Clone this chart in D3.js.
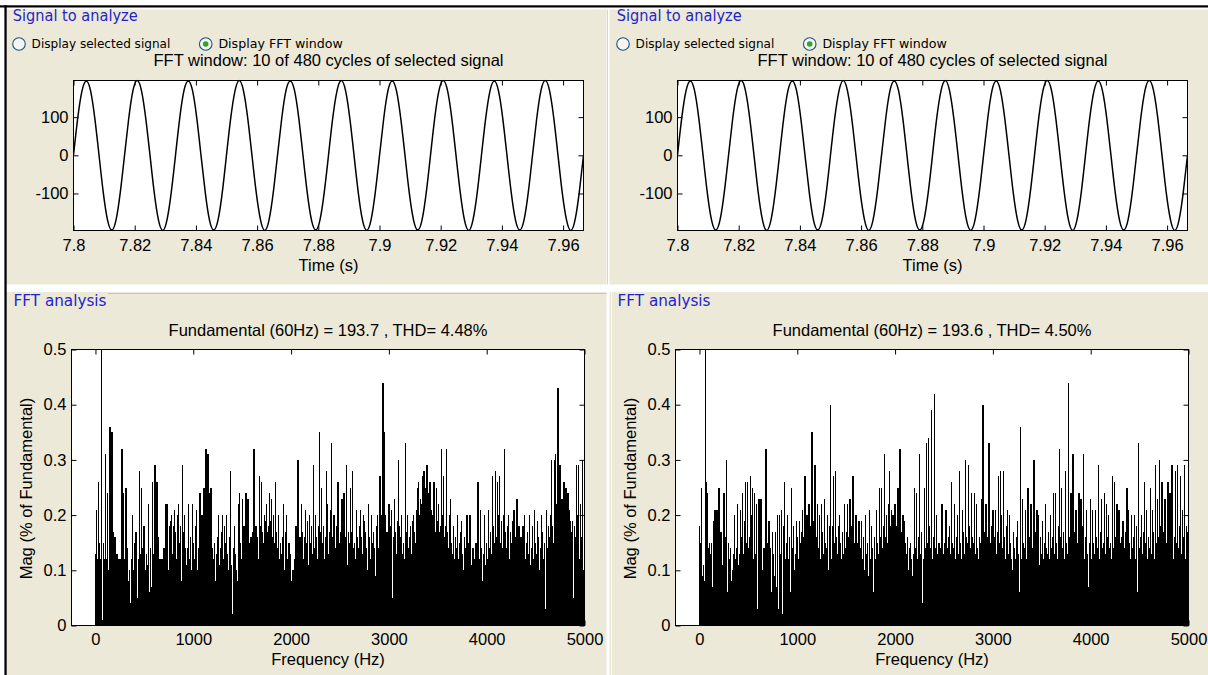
<!DOCTYPE html>
<html><head><meta charset="utf-8">
<script src="https://cdn.jsdelivr.net/npm/d3@7"></script>
<style>
html,body{margin:0;padding:0;background:#fff;}
svg{display:block;}
</style></head>
<body>
<svg id="c" width="1208" height="675"></svg>
<script>
// ---------- data ----------
const panelTitles = ["Signal to analyze", "FFT analysis"];
const radioLabels = ["Display selected signal", "Display FFT window"];
const timeTitle = "FFT window: 10 of 480 cycles of selected signal";
const timeAxisLabel = "Time (s)";
const freqAxisLabel = "Frequency (Hz)";
const magAxisLabel = "Mag (% of Fundamental)";
const fftTitles = ["Fundamental (60Hz) = 193.7 , THD= 4.48%", "Fundamental (60Hz) = 193.6 , THD= 4.50%"];

const timeStart = 7.8;
const samplesPerSecond = 720;
const timeTicks = [7.8, 7.82, 7.84, 7.86, 7.88, 7.9, 7.92, 7.94, 7.96];
const timeTickLabels = ["7.8", "7.82", "7.84", "7.86", "7.88", "7.9", "7.92", "7.94", "7.96"];
const signalTicks = [-100, 0, 100];
const signalTickLabels = ["-100", "0", "100"];
// signal samples (same waveform in both panels)
const signalValues = [
  0, 98, 169, 195, 170, 98, 1, -97, -169, -196, -170, -98,
  -1, 97, 170, 196, 169, 97, 0, -98, -170, -197, -169, -97,
  0, 98, 170, 195, 170, 98, 0, -97, -170, -196, -170, -98,
  1, 98, 169, 196, 169, 97, -1, -98, -169, -197, -170, -98,
  0, 97, 170, 195, 170, 98, 0, -98, -170, -196, -169, -97,
  0, 98, 169, 196, 170, 98, 1, -97, -170, -197, -170, -98,
  -1, 97, 170, 195, 169, 97, 0, -98, -169, -196, -170, -98,
  0, 98, 170, 196, 170, 98, 0, -97, -170, -197, -169, -97,
  1, 98, 169, 195, 169, 97, -1, -98, -170, -196, -170, -98,
  0, 97, 170, 196, 170, 98, 0, -98, -169, -197, -170, -97,
  0
];

const freqBinHz = 10;
const freqTicks = [0, 1000, 2000, 3000, 4000, 5000];
const freqTickLabels = ["0", "1000", "2000", "3000", "4000", "5000"];
const magTicks = [0, 0.1, 0.2, 0.3, 0.4, 0.5];
const magTickLabels = ["0", "0.1", "0.2", "0.3", "0.4", "0.5"];

// spectrum magnitudes (% of fundamental), one value per 10 Hz bin, 0..5000 Hz
const fftMagLeft = [
  .13,.21,.12,.26,.15,.12,100,.01,.15,.12,
  .31,.12,.24,.10,.14,.36,.17,.35,.17,.15,
  .16,.12,.13,.08,.12,.11,.12,.32,.14,.24,
  .12,.25,.25,.14,.08,.10,.04,.12,.20,.10,
  .15,.17,.17,.05,.12,.28,.13,.25,.14,.18,
  .18,.10,.13,.11,.22,.06,.14,.07,.26,.13,
  .05,.29,.12,.26,.16,.06,.12,.10,.12,.07,
  .14,.14,.22,.15,.22,.10,.18,.19,.20,.13,
  .18,.21,.17,.12,.20,.22,.15,.18,.08,.29,
  .17,.20,.14,.11,.14,.22,.12,.16,.10,.22,
  .15,.12,.18,.21,.10,.14,.17,.24,.12,.20,
  .16,.25,.18,.32,.20,.31,.24,.17,.25,.25,
  .14,.12,.15,.08,.13,.16,.20,.11,.14,.17,
  .20,.12,.18,.15,.20,.13,.10,.16,.28,.11,
  .02,.14,.18,.13,.10,.08,.22,.24,.15,.12,
  .23,.13,.18,.15,.24,.14,.23,.15,.12,.16,
  .15,.17,.32,.14,.18,.16,.16,.12,.27,.18,
  .26,.17,.15,.20,.19,.22,.17,.18,.24,.19,
  .23,.16,.20,.15,.26,.17,.14,.20,.12,.15,
  .13,.16,.22,.10,.17,.20,.12,.10,.15,.13,
  .07,.08,.10,.05,.12,.18,.12,.30,.14,.16,
  .14,.22,.17,.12,.16,.21,.15,.19,.11,.20,
  .15,.18,.13,.29,.14,.20,.16,.12,.18,.35,
  .17,.25,.15,.18,.12,.16,.28,.22,.13,.17,
  .21,.33,.14,.16,.20,.14,.12,.18,.26,.13,
  .15,.17,.23,.12,.24,.14,.16,.29,.11,.17,
  .15,.25,.17,.28,.14,.15,.12,.21,.16,.14,
  .18,.21,.16,.13,.20,.19,.17,.14,.10,.22,
  .16,.12,.20,.15,.17,.14,.09,.18,.20,.03,
  .14,.27,.17,.20,.44,.35,.20,.10,.17,.15,
  .22,.14,.18,.21,.05,.16,.23,.17,.13,.19,
  .30,.18,.16,.20,.13,.15,.12,.33,.17,.20,
  .14,.16,.18,.13,.19,.20,.17,.15,.21,.25,
  .26,.20,.23,.22,.27,.24,.28,.22,.25,.29,
  .23,.24,.26,.21,.20,.18,.26,.20,.17,.25,
  .19,.22,.17,.18,.32,.20,.27,.16,.18,.32,
  .17,.14,.20,.23,.15,.13,.18,.12,.16,.14,
  .20,.12,.15,.17,.19,.13,.10,.16,.14,.12,
  .20,.15,.13,.20,.11,.09,.14,.12,.08,.15,
  .10,.26,.02,.12,.21,.14,.08,.13,.20,.11,
  .15,.12,.21,.14,.17,.13,.27,.18,.15,.28,
  .16,.26,.20,.27,.15,.19,.14,.20,.32,.17,
  .14,.18,.20,.12,.17,.15,.13,.19,.21,.14,
  .16,.23,.12,.18,.13,.16,.09,.18,.14,.20,
  .12,.15,.17,.13,.20,.11,.14,.18,.12,.21,
  .15,.13,.19,.16,.10,.14,.20,.17,.12,.15,
  .03,.21,.14,.18,.16,.20,.30,.18,.15,.30,
  .31,.22,.18,.43,.09,.29,.20,.23,.19,.26,
  .22,.25,.18,.24,.20,.21,.19,.17,.19,.05,
  .18,.16,.29,.20,.29,.12,.22,.16,.30,.10,
  .34
];
const fftMagRight = [
  .18,.15,.25,.09,.11,.08,100,.26,.24,.14,
  .15,.13,.15,.07,.19,.12,.21,.09,.21,.14,
  .25,.13,.17,.10,.11,.24,.12,.16,.30,.06,
  .15,.12,.14,.08,.10,.13,.20,.12,.14,.22,
  .11,.13,.21,.16,.24,.13,.19,.26,.15,.26,
  .14,.16,.27,.20,.25,.12,.24,.13,.22,.03,
  .11,.23,.14,.23,.10,.04,.14,.10,.32,.13,
  .15,.19,.11,.14,.06,.17,.13,.09,.17,.07,
  .20,.03,.20,.13,.21,.02,.18,.26,.12,.15,
  .20,.12,.16,.06,.25,.14,.18,.10,.13,.19,
  .16,.12,.19,.15,.17,.21,.13,.16,.27,.14,
  .20,.16,.22,.18,.15,.35,.19,.18,.29,.26,
  .16,.22,.14,.20,.12,.22,.17,.13,.23,.15,
  .14,.20,.10,.18,.40,.12,.18,.27,.15,.28,
  .16,.13,.18,.20,.15,.12,.17,.13,.22,.14,
  .17,.22,.13,.16,.23,.14,.18,.27,.12,.15,
  .20,.13,.15,.19,.11,.14,.19,.12,.16,.10,
  .20,.13,.15,.09,.21,.12,.18,.14,.06,.16,
  .12,.21,.15,.13,.25,.16,.25,.14,.18,.31,
  .16,.20,.15,.22,.28,.18,.21,.14,.20,.16,
  .22,.15,.18,.25,.19,.32,.17,.14,.20,.19,
  .12,.15,.13,.16,.10,.14,.15,.12,.09,.13,
  .25,.14,.24,.12,.16,.31,.13,.17,.04,.12,
  .25,.14,.33,.15,.34,.18,.14,.39,.12,.16,
  .42,.14,.20,.13,.12,.15,.10,.14,.22,.13,
  .12,.15,.21,.14,.11,.16,.18,.13,.26,.15,
  .14,.22,.12,.16,.20,.13,.28,.15,.12,.21,
  .17,.13,.30,.16,.15,.29,.18,.14,.24,.16,
  .15,.24,.13,.22,.14,.12,.16,.15,.23,.10,
  .40,.14,.17,.22,.16,.12,.33,.15,.13,.18,
  .21,.14,.16,.21,.13,.17,.27,.15,.28,.20,
  .14,.28,.16,.12,.18,.21,.13,.20,.15,.12,
  .10,.17,.14,.12,.16,.19,.13,.06,.36,.12,
  .23,.15,.14,.21,.12,.10,.25,.13,.16,.22,
  .14,.12,.30,.15,.17,.21,.13,.20,.11,.16,
  .13,.19,.12,.15,.22,.14,.13,.17,.12,.20,
  .14,.16,.24,.13,.24,.15,.12,.18,.32,.16,
  .25,.14,.17,.12,.28,.15,.13,.44,.16,.18,
  .24,.14,.31,.13,.17,.21,.12,.15,.24,.06,
  .23,.14,.18,.31,.12,.16,.21,.13,.07,.15,
  .23,.12,.21,.15,.13,.21,.16,.14,.29,.12,
  .17,.23,.14,.15,.24,.13,.22,.16,.20,.14,
  .15,.12,.27,.14,.26,.13,.16,.22,.12,.21,
  .15,.13,.16,.19,.12,.14,.17,.25,.13,.21,
  .15,.12,.20,.14,.16,.20,.12,.18,.06,.33,
  .14,.16,.20,.13,.17,.26,.15,.21,.12,.16,
  .14,.25,.13,.21,.17,.12,.29,.15,.23,.16,
  .30,.14,.18,.26,.12,.17,.23,.15,.13,.26,
  .16,.24,.14,.29,.18,.12,.16,.28,.15,.29,
  .14,.18,.27,.13,.21,.16,.29,.12,.18,.17,
  .05
];

// ---------- drawing ----------
const svg = d3.select("#c");
const BEIGE = "#ece9d8";
const AX_FONT = "'Liberation Sans', Arial, Helvetica, sans-serif";
const UI_FONT = "'DejaVu Sans', Tahoma, Verdana, sans-serif";
const BLUE = "#2424c8";

svg.append("rect").attr("width", 1208).attr("height", 675).attr("fill", "#fff");

// panels
const panelRects = [
  {x: 7, y: 9.5, w: 599.5, h: 275},
  {x: 609.5, y: 9.5, w: 598.5, h: 275},
  {x: 7, y: 292, w: 599.5, h: 383},
  {x: 609.5, y: 292, w: 598.5, h: 383}
];
panelRects.forEach(p => svg.append("rect").attr("x", p.x).attr("y", p.y).attr("width", p.w).attr("height", p.h).attr("fill", BEIGE));
// etched frame hints
svg.append("line").attr("x1", 108).attr("x2", 606.5).attr("y1", 293.5).attr("y2", 293.5).attr("stroke", "#c9c6b6");
svg.append("line").attr("x1", 611.5).attr("x2", 611.5).attr("y1", 292).attr("y2", 675).attr("stroke", "#fbfaf5");
svg.append("line").attr("x1", 607.5).attr("x2", 607.5).attr("y1", 9.5).attr("y2", 284.5).attr("stroke", "#d8d6cc");
// black outer lines
svg.append("rect").attr("x", 0).attr("y", 5.3).attr("width", 1208).attr("height", 2.2).attr("fill", "#000");
svg.append("rect").attr("x", 4.4).attr("y", 5.3).attr("width", 2.3).attr("height", 670).attr("fill", "#000");

function styleAxis(g, size) {
  g.select(".domain").remove();
  g.selectAll(".tick line").attr("stroke", "#000").attr("stroke-width", 1);
  g.selectAll(".tick text").attr("fill", "#000").attr("font-family", AX_FONT).attr("font-size", size);
}

function radio(cx, cy, selected) {
  svg.append("circle").attr("cx", cx).attr("cy", cy).attr("r", 6.3)
    .attr("fill", "#f6f5f0").attr("stroke", "#1c5180").attr("stroke-width", 1.1);
  if (selected) svg.append("circle").attr("cx", cx).attr("cy", cy).attr("r", 2.8).attr("fill", "#2fa52f");
}

function uiText(x, y, txt, size, len, color) {
  svg.append("text").attr("x", x).attr("y", y).text(txt)
    .attr("font-family", UI_FONT).attr("font-size", size).attr("fill", color)
    .attr("textLength", len).attr("lengthAdjust", "spacingAndGlyphs");
}

function timePanel(ox, idx) {
  const left = ox + 73.5, right = ox + 583.5, top = 80.5, bottom = 230.5;
  const timeEnd = timeStart + (signalValues.length - 1) / samplesPerSecond;
  const x = d3.scaleLinear().domain([timeStart, timeEnd]).range([left, right]);
  const y = d3.scaleLinear().domain([-197, 196]).range([bottom, top]);

  uiText(ox + 12.7, 21, panelTitles[0], 15, 125, BLUE);
  radio(ox + 19, 44, false);
  uiText(ox + 31.6, 48.3, radioLabels[0], 12, 138.7, "#000");
  radio(ox + 205.7, 44, true);
  uiText(ox + 218.4, 48.3, radioLabels[1], 12, 124.4, "#000");

  svg.append("text").attr("x", (left + right) / 2).attr("y", 66).attr("text-anchor", "middle")
    .attr("font-family", AX_FONT).attr("font-size", 16.5).attr("fill", "#000").text(timeTitle);

  svg.append("rect").attr("x", left).attr("y", top).attr("width", right - left).attr("height", bottom - top).attr("fill", "#fff");
  const cid = "clipT" + idx;
  svg.append("clipPath").attr("id", cid).append("rect").attr("x", left).attr("y", top - 1).attr("width", right - left).attr("height", bottom - top + 2);

  const line = d3.line().x((d, i) => x(timeStart + i / samplesPerSecond)).y(d => y(d)).curve(d3.curveNatural);
  svg.append("path").datum(signalValues).attr("d", line).attr("fill", "none")
    .attr("stroke", "#000").attr("stroke-width", 1.5).attr("clip-path", `url(#${cid})`);

  const gb = svg.append("g").attr("transform", `translate(0,${bottom})`)
    .call(d3.axisBottom(x).tickValues(timeTicks).tickSize(-5).tickPadding(9).tickFormat((d, i) => timeTickLabels[i]));
  styleAxis(gb, 16.5);
  const gt = svg.append("g").attr("transform", `translate(0,${top})`)
    .call(d3.axisTop(x).tickValues(timeTicks).tickSize(-5).tickFormat(""));
  styleAxis(gt, 16.5);
  const gl = svg.append("g").attr("transform", `translate(${left},0)`)
    .call(d3.axisLeft(y).tickValues(signalTicks).tickSize(-5).tickPadding(5).tickFormat((d, i) => signalTickLabels[i]));
  styleAxis(gl, 16.5);
  const gr = svg.append("g").attr("transform", `translate(${right},0)`)
    .call(d3.axisRight(y).tickValues(signalTicks).tickSize(-5).tickFormat(""));
  styleAxis(gr, 16.5);

  svg.append("rect").attr("x", left).attr("y", top).attr("width", right - left).attr("height", bottom - top)
    .attr("fill", "none").attr("stroke", "#000").attr("stroke-width", 1);

  svg.append("text").attr("x", (left + right) / 2).attr("y", 270.5).attr("text-anchor", "middle")
    .attr("font-family", AX_FONT).attr("font-size", 16.5).attr("fill", "#000").text(timeAxisLabel);
}

function fftPanel(ox, idx, mags) {
  const left = ox + 71.5, right = ox + 584.5, top = 349.5, bottom = 625.5;
  const x = d3.scaleLinear().domain([-245, 5000]).range([left, right]);
  const y = d3.scaleLinear().domain([0, 0.5]).range([bottom, top]);

  uiText(ox + 13.5, 306, panelTitles[1], 15, 93, BLUE);

  svg.append("text").attr("x", (left + right) / 2).attr("y", 335.5).attr("text-anchor", "middle")
    .attr("font-family", AX_FONT).attr("font-size", 16.5).attr("fill", "#000").text(fftTitles[idx]);

  svg.append("rect").attr("x", left).attr("y", top).attr("width", right - left).attr("height", bottom - top).attr("fill", "#fff");
  const cid = "clipF" + idx;
  svg.append("clipPath").attr("id", cid).append("rect").attr("x", left).attr("y", top).attr("width", right - left).attr("height", bottom - top);

  const bw = (x(freqBinHz) - x(0)) * 1.3;
  svg.append("g").attr("clip-path", `url(#${cid})`).attr("shape-rendering", "crispEdges")
    .selectAll("rect").data(mags).join("rect")
    .attr("x", (d, i) => x(i * freqBinHz) - bw / 2)
    .attr("y", d => y(Math.min(d, 0.6)))
    .attr("width", bw)
    .attr("height", d => y(0) - y(Math.min(d, 0.6)))
    .attr("fill", "#000");

  const gb = svg.append("g").attr("transform", `translate(0,${bottom})`)
    .call(d3.axisBottom(x).tickValues(freqTicks).tickSize(-5).tickPadding(8).tickFormat((d, i) => freqTickLabels[i]));
  styleAxis(gb, 16.5);
  const gt = svg.append("g").attr("transform", `translate(0,${top})`)
    .call(d3.axisTop(x).tickValues(freqTicks).tickSize(-5).tickFormat(""));
  styleAxis(gt, 16.5);
  const gl = svg.append("g").attr("transform", `translate(${left},0)`)
    .call(d3.axisLeft(y).tickValues(magTicks).tickSize(-5).tickPadding(5).tickFormat((d, i) => magTickLabels[i]));
  styleAxis(gl, 16.5);
  const gr = svg.append("g").attr("transform", `translate(${right},0)`)
    .call(d3.axisRight(y).tickValues(magTicks).tickSize(-5).tickFormat(""));
  styleAxis(gr, 16.5);

  svg.append("rect").attr("x", left).attr("y", top).attr("width", right - left).attr("height", bottom - top)
    .attr("fill", "none").attr("stroke", "#000").attr("stroke-width", 1);

  svg.append("text").attr("x", (left + right) / 2).attr("y", 664.5).attr("text-anchor", "middle")
    .attr("font-family", AX_FONT).attr("font-size", 16.5).attr("fill", "#000").text(freqAxisLabel);
  svg.append("text").attr("transform", `translate(${ox + 31.5},${(top + bottom) / 2 + 1}) rotate(-90)`)
    .attr("text-anchor", "middle")
    .attr("font-family", AX_FONT).attr("font-size", 16.5).attr("fill", "#000").text(magAxisLabel);
}

timePanel(0, 0);
timePanel(604, 1);
fftPanel(0, 0, fftMagLeft);
fftPanel(604, 1, fftMagRight);
</script>
</body></html>
